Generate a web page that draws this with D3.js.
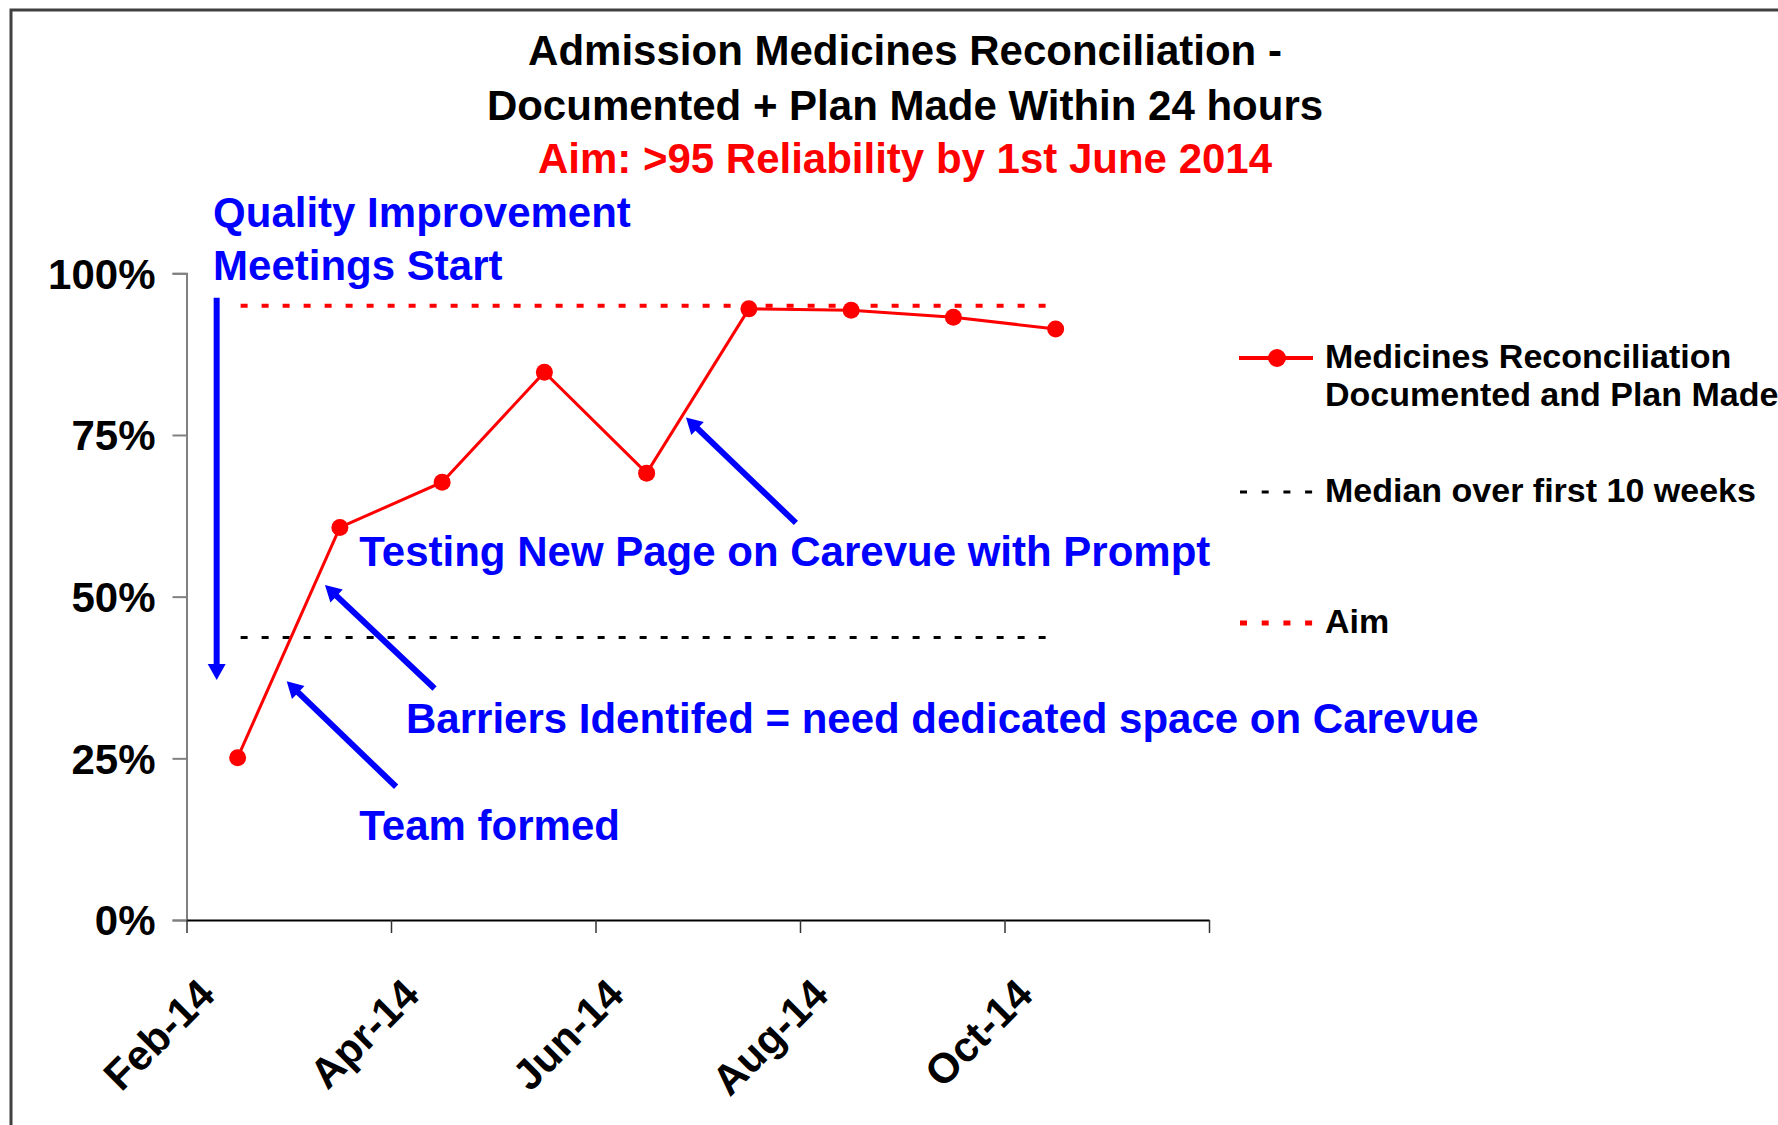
<!DOCTYPE html>
<html>
<head>
<meta charset="utf-8">
<script src="https://cdn.jsdelivr.net/npm/d3@7"></script>
<style>
  body { margin: 0; background: #fff; }
  svg { display: block; font-family: Arial, "Liberation Sans", sans-serif; font-weight: bold; }
</style>
</head>
<body>
<svg id="chart" width="1778" height="1125"></svg>
<script>
// months on the category axis (last one only closes the axis)
const months = ["Feb-14", "Mar-14", "Apr-14", "May-14", "Jun-14", "Jul-14", "Aug-14", "Sep-14", "Oct-14", "Nov-14"];
const dataMonths = months.slice(0, 9);
const reliability = [25.1, 60.7, 67.7, 84.7, 69.1, 94.5, 94.3, 93.2, 91.4];
const aimValue = 95;
const medianValue = 43.7;
const yTicks = [0, 25, 50, 75, 100];
const xTickIndex = [0, 2, 4, 6, 8, 10];

const titleLines = ["Admission Medicines Reconciliation -", "Documented + Plan Made Within 24 hours"];
const aimTitle = "Aim: >95 Reliability by 1st June 2014";

// annotations in [month index, percent]
const arrows = [
  {from: [0.295, 96.2], to: [0.295, 37.1]},
  {from: [5.96, 61.4], to: [4.885, 77.7]},
  {from: [2.426, 35.8], to: [1.354, 51.8]},
  {from: [2.05, 20.6], to: [0.98, 36.9]}
];
const notes = [
  {text: "Quality Improvement", at: [0.26, 107.2]},
  {text: "Meetings Start", at: [0.26, 99.0]},
  {text: "Testing New Page on Carevue with Prompt", at: [1.69, 54.8]},
  {text: "Barriers Identifed = need dedicated space on Carevue", at: [2.147, 28.9]},
  {text: "Team formed", at: [1.69, 12.4]}
];

const RED = "#ff0000", BLUE = "#0000ff";

let svg = d3.select("#chart");

// outer frame, open off the right and bottom of the picture
svg.append("rect")
  .attr("x", 11).attr("y", 10)
  .attr("width", 1900).attr("height", 1300)
  .attr("fill", "none").attr("stroke", "#404040").attr("stroke-width", 3);

let x = d3.scaleBand().domain(months).range([186.5, 1209]);
let xi = d3.scaleLinear().domain([0, months.length]).range([186.5, 1209]);
let y = d3.scaleLinear().domain([0, 100]).range([920, 273.3]);
let cx = m => x(m) + x.bandwidth() / 2;

// title
svg.selectAll(".title")
  .data(titleLines)
  .join("text")
  .attr("x", 905).attr("y", (d, i) => 65 + i * 55)
  .attr("text-anchor", "middle").attr("font-size", 42).attr("fill", "#000")
  .text(d => d);
svg.append("text")
  .attr("x", 905).attr("y", 173)
  .attr("text-anchor", "middle").attr("font-size", 42).attr("fill", RED)
  .text(aimTitle);

// y axis
let yAxis = svg.append("g")
  .attr("transform", "translate(186.5,0)")
  .call(d3.axisLeft(y).tickValues(yTicks).tickFormat(d => d + "%").tickSize(14).tickPadding(17));
yAxis.select(".domain").attr("stroke", "#808080").attr("stroke-width", 2);
yAxis.selectAll(".tick line").attr("stroke", "#808080").attr("stroke-width", 2);
yAxis.selectAll(".tick text")
  .attr("font-size", 42).attr("font-family", null).attr("fill", "#000").attr("dy", "0.35em");

// x axis
let xAxis = svg.append("g")
  .attr("transform", "translate(0,920)")
  .call(d3.axisBottom(xi).tickValues(xTickIndex).tickSize(13).tickSizeOuter(0)
    .tickFormat(i => i < months.length ? months[i] : ""));
xAxis.select(".domain").attr("stroke", "#000").attr("stroke-width", 2);
xAxis.selectAll(".tick line").attr("stroke", "#333").attr("stroke-width", 1.5);
xAxis.selectAll(".tick text")
  .attr("font-size", 42).attr("font-family", null).attr("fill", "#000")
  .attr("x", 0).attr("y", 0).attr("dy", 0)
  .attr("text-anchor", "end")
  .attr("transform", "translate(30,77) rotate(-45)");

// aim and median reference series
let line = d3.line().x(d => cx(d.m)).y(d => y(d.v));

svg.append("path")
  .datum(dataMonths.map(m => ({m: m, v: medianValue})))
  .attr("d", line)
  .attr("fill", "none").attr("stroke", "#000").attr("stroke-width", 3)
  .attr("stroke-dasharray", "7,14").attr("stroke-dashoffset", -3);

svg.append("path")
  .datum(dataMonths.map(m => ({m: m, v: aimValue})))
  .attr("d", line)
  .attr("fill", "none").attr("stroke", RED).attr("stroke-width", 4)
  .attr("stroke-dasharray", "7,14").attr("stroke-dashoffset", -3);

// main series
let series = dataMonths.map((m, i) => ({m: m, v: reliability[i]}));
svg.append("path")
  .datum(series)
  .attr("d", line)
  .attr("fill", "none").attr("stroke", RED).attr("stroke-width", 3);
svg.selectAll(".pt")
  .data(series)
  .join("circle")
  .attr("class", "pt")
  .attr("cx", d => cx(d.m)).attr("cy", d => y(d.v))
  .attr("r", 8.5).attr("fill", RED);

// arrows
arrows.forEach(a => {
  let x1 = xi(a.from[0]), y1 = y(a.from[1]);
  let x2 = xi(a.to[0]), y2 = y(a.to[1]);
  let dx = x2 - x1, dy = y2 - y1, len = Math.hypot(dx, dy);
  let ux = dx / len, uy = dy / len;
  let head = 16, half = 9;
  let bx = x2 - ux * head, by = y2 - uy * head;
  svg.append("line")
    .attr("x1", x1).attr("y1", y1).attr("x2", bx + ux * 2).attr("y2", by + uy * 2)
    .attr("stroke", BLUE).attr("stroke-width", 6);
  svg.append("path")
    .attr("d", `M${x2},${y2}L${bx - uy * half},${by + ux * half}L${bx + uy * half},${by - ux * half}Z`)
    .attr("fill", BLUE);
});

// annotation text
svg.selectAll(".note")
  .data(notes)
  .join("text")
  .attr("class", "note")
  .attr("x", d => xi(d.at[0])).attr("y", d => y(d.at[1]))
  .attr("font-size", 42).attr("fill", BLUE)
  .text(d => d.text);

// legend
let legend = svg.append("g").attr("font-size", 34);

legend.append("line")
  .attr("x1", 1239).attr("x2", 1313).attr("y1", 358).attr("y2", 358)
  .attr("stroke", RED).attr("stroke-width", 4);
legend.append("circle")
  .attr("cx", 1277).attr("cy", 358).attr("r", 9).attr("fill", RED);
legend.append("text").attr("x", 1325).attr("y", 368).text("Medicines Reconciliation");
legend.append("text").attr("x", 1325).attr("y", 406).text("Documented and Plan Made");

legend.append("line")
  .attr("x1", 1240).attr("x2", 1313).attr("y1", 492).attr("y2", 492)
  .attr("stroke", "#000").attr("stroke-width", 3).attr("stroke-dasharray", "7,14.7");
legend.append("text").attr("x", 1325).attr("y", 502).text("Median over first 10 weeks");

legend.append("line")
  .attr("x1", 1240).attr("x2", 1313).attr("y1", 623).attr("y2", 623)
  .attr("stroke", RED).attr("stroke-width", 5).attr("stroke-dasharray", "7,14.7");
legend.append("text").attr("x", 1325).attr("y", 633).text("Aim");
</script>
</body>
</html>
